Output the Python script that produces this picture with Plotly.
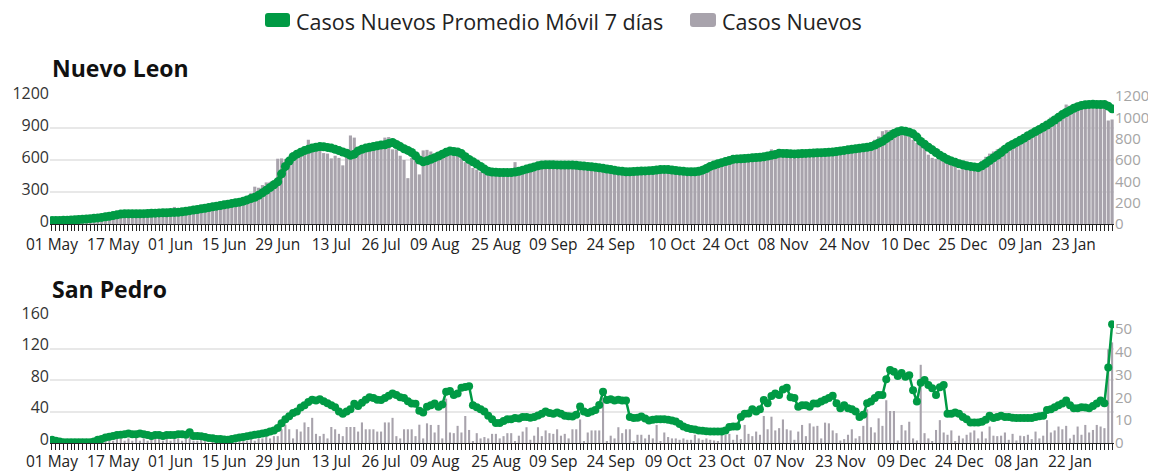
import pandas as pd
import plotly.graph_objects as go

# ---------------- data ----------------
start_date = "2020-05-01"
n_days = 278
dates = pd.date_range(start_date, periods=n_days, freq="D")

# Nuevo Leon - 7 day moving average (left axis)
nl_avg = [
    32, 33, 34, 35, 36, 38, 40, 42, 44, 46,
    50, 53, 57, 62, 68, 73, 79, 86, 93, 95,
    96, 95, 95, 96, 97, 99, 101, 102, 104, 105,
    106, 107, 109, 110, 114, 119, 125, 131, 136, 142,
    148, 155, 161, 167, 174, 180, 186, 193, 199, 205,
    214, 226, 238, 250, 270, 292, 316, 342, 368, 395,
    470, 540, 590, 630, 655, 672, 688, 700, 712, 720,
    726, 724, 718, 712, 700, 688, 675, 663, 645, 655,
    685, 700, 712, 720, 726, 734, 740, 742, 755, 764,
    745, 726, 705, 690, 670, 640, 600, 584, 592, 606,
    622, 638, 655, 672, 685, 680, 675, 660, 630, 605,
    584, 562, 540, 515, 495, 488, 485, 483, 483, 483,
    483, 488, 495, 505, 515, 525, 535, 545, 553, 555,
    555, 555, 554, 553, 553, 553, 552, 550, 546, 543,
    540, 537, 532, 527, 522, 516, 510, 504, 498, 494,
    490, 490, 492, 494, 496, 498, 500, 502, 506, 510,
    512, 510, 506, 502, 498, 494, 491, 490, 490, 495,
    505, 520, 540, 553, 565, 575, 585, 595, 606, 610,
    612, 614, 617, 620, 623, 625, 630, 638, 645, 652,
    663, 662, 660, 658, 657, 658, 660, 662, 664, 666,
    668, 669, 670, 672, 675, 680, 685, 690, 695, 700,
    705, 710, 715, 720, 726, 740, 758, 774, 800, 825,
    848, 865, 875, 870, 860, 845, 815, 774, 748, 720,
    695, 670, 645, 625, 605, 590, 578, 565, 555, 545,
    540, 535, 530, 545, 568, 595, 620, 645, 670, 700,
    726, 745, 765, 785, 805, 827, 847, 867, 887, 907,
    928, 950, 975, 1000, 1026, 1045, 1065, 1085, 1100, 1112,
    1118, 1121, 1122, 1121, 1120, 1121, 1105, 1080,
]

# Nuevo Leon - daily new cases (right axis)
nl_cases = [
    28, 35, 30, 40, 38, 45, 42, 48, 50, 52,
    55, 62, 60, 72, 80, 85, 90, 100, 110, 105,
    98, 95, 100, 92, 105, 100, 110, 108, 112, 100,
    105, 120, 160, 118, 115, 125, 135, 140, 155, 150,
    160, 170, 175, 165, 180, 185, 190, 200, 195, 210,
    230, 255, 290, 350, 340, 365, 390, 395, 410, 612,
    615, 610, 600, 675, 690, 700, 720, 790, 735, 700,
    720, 665, 660, 615, 640, 620, 550, 640, 830, 810,
    700, 690, 700, 740, 720, 740, 720, 810, 815, 700,
    700, 640, 600, 430, 620, 640, 465, 690, 695, 680,
    650, 655, 670, 690, 685, 680, 670, 660, 580, 565,
    525, 510, 490, 480, 470, 480, 490, 480, 485, 490,
    495, 580, 500, 510, 520, 530, 545, 550, 555, 560,
    555, 550, 560, 555, 545, 550, 555, 548, 545, 540,
    535, 540, 530, 525, 520, 515, 510, 505, 500, 495,
    490, 492, 495, 496, 498, 500, 505, 500, 505, 510,
    515, 505, 500, 498, 495, 490, 488, 492, 495, 500,
    540, 560, 575, 580, 590, 600, 610, 615, 620, 625,
    618, 620, 622, 625, 620, 630, 640, 650, 700, 660,
    665, 660, 655, 660, 665, 660, 665, 670, 672, 670,
    675, 680, 685, 688, 690, 695, 700, 705, 702, 708,
    712, 720, 730, 740, 760, 790, 820, 870, 880, 880,
    885, 900, 880, 840, 820, 790, 760, 740, 730, 650,
    620, 610, 600, 600, 590, 580, 560, 510, 520, 515,
    520, 525, 530, 590, 630, 660, 680, 700, 720, 740,
    760, 780, 800, 820, 830, 840, 860, 880, 900, 930,
    950, 1000, 990, 1010, 1020, 1120, 1110, 1100, 1120, 1140,
    1120, 1110, 1115, 1120, 1110, 1100, 970, 980,
]

# San Pedro - 7 day moving average (left axis)
sp_avg = [
    4, 3, 2, 1, 1, 1, 1, 1, 1, 1,
    1, 2, 4, 5, 7, 8, 9, 10, 10.5, 11,
    12, 11, 11, 12, 11, 10, 9, 10, 10, 9,
    10, 10, 10, 11, 11, 10.5, 13.5, 9, 9, 8.5,
    7.5, 6.5, 6, 5, 5, 4.5, 4, 5, 6, 7,
    7.5, 8.5, 9.5, 10.5, 11, 12, 13, 14.5, 16, 19,
    25, 30, 34, 38, 40, 45, 48, 52, 55, 54,
    55.6, 53, 50.5, 48, 45.5, 40, 37, 40, 43, 49.7,
    47, 51, 55, 58, 57, 55, 54.7, 57, 60, 63,
    61, 58, 57, 53, 50, 49.7, 41, 38.7, 46, 48,
    50, 46, 49, 65, 66, 61, 63, 70, 71, 72,
    48, 45.5, 43, 40, 34.5, 30, 25.3, 25.3, 28, 30,
    30.3, 31.6, 31, 33, 33, 32, 33, 35, 37, 40,
    38, 37, 38.7, 37, 34.5, 34, 33.7, 36, 46.3, 40,
    38, 40, 42, 48.4, 65, 54.7, 55.6, 54, 55, 54,
    54, 33, 31.6, 32, 33.7, 31, 28.6, 29.5, 30, 30.3,
    30, 29.5, 28.5, 27.4, 24, 21, 19, 17.7, 17, 16,
    15.5, 15, 14.7, 14.7, 14.7, 14.7, 16, 20.2, 21, 21,
    33, 37, 37.5, 43, 40, 43, 54.7, 50.5, 59.8, 63,
    61, 68, 70, 58, 57, 46, 48, 48, 46, 50,
    50, 52.6, 55, 57, 60, 50.5, 44, 48, 44, 43,
    40, 33, 36, 50.5, 52.6, 57, 61, 61, 81, 92.6,
    90.5, 85, 89, 84, 86, 67, 52.6, 76.6, 80, 73.7,
    69.5, 61, 70.7, 73.7, 37, 37, 38.7, 37, 33, 30,
    26, 26, 26, 27, 29.5, 34.5, 31.6, 33, 34.5, 33,
    33, 32, 31.6, 31.6, 31.6, 31.6, 31.6, 33, 34, 34.5,
    42, 43, 45.5, 48, 50, 54, 48, 44, 44, 45.5,
    45, 44, 47, 50, 54, 50.5, 96, 150.7,
]

# San Pedro - daily new cases (right axis)
sp_cases = [
    1, 0, 1, 0, 0, 1, 0, 0, 1, 0,
    1, 0, 2, 1, 1, 2, 1, 3, 2, 1,
    2, 1, 3, 1, 2, 1, 2, 2, 3, 1,
    2, 1, 3, 2, 1, 2, 3, 1, 1, 2,
    1, 0, 1, 1, 0, 1, 1, 2, 1, 1,
    2, 1, 2, 1, 2, 2, 3, 2, 3, 3,
    6, 8, 6, 2, 6, 5, 9, 7, 11, 4,
    3, 4, 2, 7, 6, 4, 3, 7, 7, 7,
    5, 9, 6, 6, 6, 5, 5, 9, 9, 11,
    3, 2, 6, 6, 6, 3, 8, 2, 8.6, 7.9,
    4.6, 7.9, 2, 19.4, 4.6, 4.3, 7.5, 4.6, 11.8, 5.7,
    0.7, 4.3, 2, 2.6, 2, 4, 4, 2, 3, 4.3,
    4.3, 0.7, 3.2, 5, 6.9, 1.4, 3.2, 6.9, 3, 5.5,
    4.3, 4, 6, 3.2, 4, 2, 6, 6, 10.3, 0.7,
    4.6, 5.5, 5.5, 5.5, 19.8, 0.7, 3.2, 2, 6.9, 4.3,
    6, 6, 0.7, 3.6, 3.6, 2, 3.6, 2, 7.9, 0.7,
    4.6, 2.6, 2, 2, 1.4, 2, 1.4, 1.4, 3.6, 2,
    1.4, 2, 1.4, 1.1, 0.7, 3.6, 3.6, 4, 1.4, 3.6,
    1.7, 7.9, 4, 3, 5, 3.6, 11.8, 6, 11.5, 5.5,
    6.5, 10.3, 6, 5.5, 1.4, 5, 7.9, 3, 8.6, 7.2,
    7.5, 2, 8.9, 8.6, 5.5, 4.3, 1.1, 1.7, 3.6, 6,
    2, 3, 7.5, 14.7, 6.9, 4.6, 10.8, 7.5, 18.7, 14,
    14, 1.1, 7.9, 5.5, 9.3, 2, 1.1, 34.2, 4.3, 2,
    0.7, 5.7, 10, 4.6, 3.6, 5.5, 0.7, 3.2, 2, 3.6,
    4.6, 5.5, 2, 5, 2, 7.2, 3.2, 3, 3.2, 4.6,
    1.4, 4, 1.1, 3.2, 3, 3.6, 1.7, 5, 2, 3.2,
    10, 4.6, 5.5, 7.2, 6, 7.5, 2, 3.6, 7.2, 3.6,
    7.9, 4.6, 5.7, 7.9, 7.2, 6.5, 41, 44,
]

nl_tick_dates = ["2020-05-01", "2020-05-17", "2020-06-01", "2020-06-15", "2020-06-29",
                 "2020-07-13", "2020-07-26", "2020-08-09", "2020-08-25", "2020-09-09",
                 "2020-09-24", "2020-10-10", "2020-10-24", "2020-11-08", "2020-11-24",
                 "2020-12-10", "2020-12-25", "2021-01-09", "2021-01-23"]
nl_tick_labels = ["01 May", "17 May", "01 Jun", "15 Jun", "29 Jun", "13 Jul", "26 Jul",
                  "09 Aug", "25 Aug", "09 Sep", "24 Sep", "10 Oct", "24 Oct", "08 Nov",
                  "24 Nov", "10 Dec", "25 Dec", "09 Jan", "23 Jan"]
sp_tick_dates = ["2020-05-01", "2020-05-17", "2020-06-01", "2020-06-15", "2020-06-29",
                 "2020-07-13", "2020-07-26", "2020-08-09", "2020-08-25", "2020-09-09",
                 "2020-09-24", "2020-10-09", "2020-10-23", "2020-11-07", "2020-11-23",
                 "2020-12-09", "2020-12-24", "2021-01-08", "2021-01-22"]
sp_tick_labels = ["01 May", "17 May", "01 Jun", "15 Jun", "29 Jun", "13 Jul", "26 Jul",
                  "09 Aug", "25 Aug", "09 Sep", "24 Sep", "09 Oct", "23 Oct", "07 Nov",
                  "23 Nov", "09 Dec", "24 Dec", "08 Jan", "22 Jan"]

nl_left_ticks = [0, 300, 600, 900, 1200]
nl_right_ticks = [0, 200, 400, 600, 800, 1000, 1200]
sp_left_ticks = [0, 40, 80, 120, 160]
sp_right_ticks = [0, 10, 20, 30, 40, 50]

legend_labels = ["Casos Nuevos Promedio Móvil 7 días", "Casos Nuevos"]
panel_titles = ["Nuevo Leon", "San Pedro"]

# ---------------- style ----------------
GREEN = "#009a44"
GRAY = "#a8a3ac"
GRID = "#e8e8e8"
FONT = "Open Sans"
DAY_MS = 86400000

fig = go.Figure()
fig.add_trace(go.Bar(x=dates, y=nl_cases, xaxis="x", yaxis="y", marker_color=GRAY,
                     marker_line_width=0, width=0.82 * DAY_MS, showlegend=False))
fig.add_trace(go.Scatter(x=dates, y=nl_avg, xaxis="x", yaxis="y2", mode="lines+markers",
                         line=dict(color=GREEN, width=5), marker=dict(color=GREEN, size=9),
                         showlegend=False))
fig.add_trace(go.Bar(x=dates, y=sp_cases, xaxis="x2", yaxis="y3", marker_color=GRAY,
                     marker_line_width=0, width=0.55 * DAY_MS, showlegend=False))
fig.add_trace(go.Scatter(x=dates, y=sp_avg, xaxis="x2", yaxis="y4", mode="lines+markers",
                         line=dict(color=GREEN, width=2.5), marker=dict(color=GREEN, size=8),
                         showlegend=False))

x_range = ["2020-04-30 12:00", "2021-02-02 12:00"]


def xaxis_style(anchor, tickvals, ticktext, standoff):
    return dict(
        anchor=anchor, domain=[0, 1], type="date", range=x_range, automargin=False,
        tickmode="array", tickvals=tickvals, ticktext=ticktext,
        ticks="outside", ticklen=6, tickwidth=1, tickcolor="#222",
        ticklabelstandoff=standoff,
        showline=True, linecolor="#222", linewidth=1, showgrid=False, zeroline=False,
        tickfont=dict(family=FONT, size=15.5, color="#222"),
        minor=dict(ticks="outside", ticklen=6, tickwidth=1, tickcolor="#222",
                   dtick=DAY_MS, tick0=start_date, showgrid=False),
    )


def yaxis_style(side, rng, tickvals, grid, color, size, shift, **extra):
    d = dict(side=side, range=rng, automargin=False, tickmode="array", tickvals=tickvals,
             showgrid=grid, gridcolor=GRID, gridwidth=1.5, zeroline=False, ticks="",
             ticklabelshift=shift, tickfont=dict(family=FONT, size=size, color=color))
    d.update(extra)
    return d


top_dom = [0.6311, 1.0]
bot_dom = [0.0, 0.3631]

fig.update_layout(
    width=1156, height=471,
    margin=dict(l=42, r=50, t=88, b=36, autoexpand=False),
    paper_bgcolor="white", plot_bgcolor="white",
    font=dict(family=FONT, color="#222"),
    showlegend=False,
    xaxis=xaxis_style("y", nl_tick_dates, nl_tick_labels, 0),
    xaxis2=xaxis_style("y3", sp_tick_dates, sp_tick_labels, -2),
    yaxis=yaxis_style("right", [0, 1200], nl_right_ticks, False, "#a5a5a5", 15, 0,
                      domain=top_dom, anchor="x"),
    yaxis2=yaxis_style("left", [0, 1200], nl_left_ticks, True, "#333", 16, -3,
                       overlaying="y", anchor="x"),
    yaxis3=yaxis_style("right", [0, 55.1], sp_right_ticks, False, "#a5a5a5", 15, 0,
                       domain=bot_dom, anchor="x2"),
    yaxis4=yaxis_style("left", [0, 160], sp_left_ticks, True, "#333", 16, -4,
                       overlaying="y3", anchor="x2"),
)

# panel titles
fig.add_annotation(text="<b>" + panel_titles[0] + "</b>", xref="paper", yref="paper",
                   x=0, y=1.081, xanchor="left", yanchor="middle", showarrow=False,
                   font=dict(family=FONT, size=23, color="#111"))
fig.add_annotation(text="<b>" + panel_titles[1] + "</b>", xref="paper", yref="paper",
                   x=0, y=0.444, xanchor="left", yanchor="middle", showarrow=False,
                   font=dict(family=FONT, size=23, color="#111"))


# legend (manual: rounded swatches + labels)
def rrect(x0, y0, x1, y1, rx, ry):
    return (f"M {x0+rx},{y0} L {x1-rx},{y0} Q {x1},{y0} {x1},{y0+ry} "
            f"L {x1},{y1-ry} Q {x1},{y1} {x1-rx},{y1} L {x0+rx},{y1} "
            f"Q {x0},{y1} {x0},{y1-ry} L {x0},{y0+ry} Q {x0},{y0} {x0+rx},{y0} Z")


PW, PH = 1064.0, 347.0
def px(xp):
    return (xp - 50) / PW
def py(yp):
    return (443 - yp) / PH


rx, ry = 3 / PW, 3 / PH
for (sx0, sx1, tx, col, lab) in [(265, 290, 295, GREEN, legend_labels[0]),
                                 (690, 716, 721, GRAY, legend_labels[1])]:
    fig.add_shape(type="path", xref="paper", yref="paper",
                  path=rrect(px(sx0), py(27), px(sx1), py(13), rx, ry),
                  fillcolor=col, line=dict(width=0))
    fig.add_annotation(text=lab, xref="paper", yref="paper", x=px(tx), y=py(21),
                       xanchor="left", yanchor="middle", showarrow=False, borderpad=0,
                       font=dict(family=FONT, size=21.5, color="#222"))

fig.write_html("out.html")
